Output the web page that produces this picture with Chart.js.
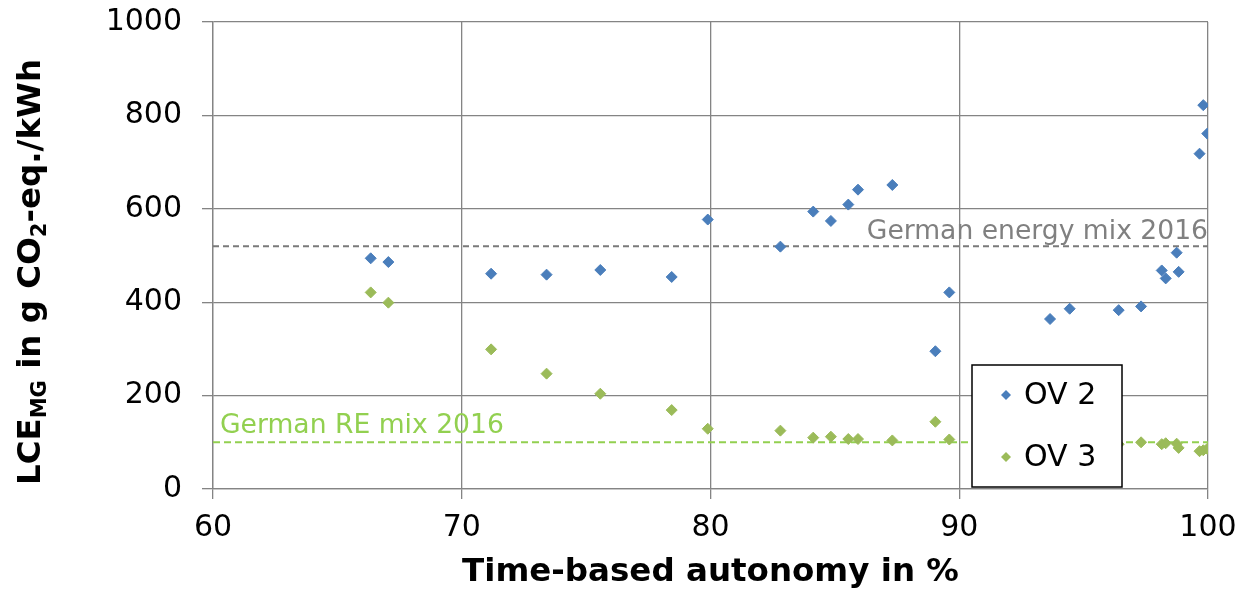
<!DOCTYPE html>
<html>
<head>
<meta charset="utf-8">
<script src="https://cdn.jsdelivr.net/npm/chart.js@4.4.1/dist/chart.umd.min.js"></script>
<style>
  html, body { margin: 0; padding: 0; background: #fff; }
  #wrap { width: 1243px; height: 589px; }
</style>
</head>
<body>
<div id="wrap"><canvas id="chart" width="1243" height="589"></canvas></div>
<script>
// time-based autonomy (%) of each simulated configuration
const autonomy = [66.34, 67.05, 71.18, 73.41, 75.57, 78.44, 79.89, 82.81, 84.13, 84.84,
  85.54, 85.93, 87.31, 89.04, 89.60, 93.65, 94.44, 96.41, 97.31, 98.14,
  98.30, 98.74, 98.82, 99.66, 99.81, 99.97];
// LCE of the microgrid, g CO2-eq./kWh
const ov2 = [494, 486, 461, 459, 469, 454, 577, 519, 594, 574,
  609, 641, 651, 295, 421, 364, 386, 383, 391, 468,
  451, 506, 465, 718, 822, 761];
const ov3 = [421, 399, 299, 247, 204, 169, 129, 125, 110, 112,
  107, 107, 104, 144, 106, 98, 97, 96, 100, 96,
  98, 97, 88, 81, 83, 86];
const seriesNames = ["OV 2", "OV 3"];
const energyMix2016 = 520;
const reMix2016 = 100;
const xRange = [60, 100];
const yRange = [0, 1000];

const BLUE = "#4a7ebb";
const GREEN = "#9bbb59";
const GRID = "#848484";
const FONT = "'DejaVu Sans', Verdana, sans-serif";

Chart.defaults.font.family = FONT;
Chart.defaults.color = "#000";

const toPoints = (ys) => autonomy.map((x, i) => ({ x: x, y: ys[i] }));
const flatLine = (v) => xRange.map((x) => ({ x: x, y: v }));

function diamond(ctx, x, y, r, color) {
  ctx.beginPath();
  ctx.moveTo(x - r, y);
  ctx.lineTo(x, y - r);
  ctx.lineTo(x + r, y);
  ctx.lineTo(x, y + r);
  ctx.closePath();
  ctx.fillStyle = color;
  ctx.fill();
}

// reference line captions, boxed legend and the y title with subscripts
const overlay = {
  id: "overlay",
  afterDatasetsDraw(chart) {
    const { ctx, chartArea, scales } = chart;
    const y = scales.y;
    ctx.save();
    ctx.font = "26.6px " + FONT;
    ctx.textBaseline = "alphabetic";
    ctx.fillStyle = "#808080";
    ctx.textAlign = "right";
    ctx.fillText("German energy mix 2016", chartArea.right, y.getPixelForValue(energyMix2016) - 7);
    ctx.fillStyle = "#92d050";
    ctx.textAlign = "left";
    ctx.fillText("German RE mix 2016", chartArea.left + 7, y.getPixelForValue(reMix2016) - 9);
    ctx.restore();
  },
  afterDraw(chart) {
    const ctx = chart.ctx;
    ctx.save();

    // legend box
    const bx = 972, by = 365, bw = 150, bh = 122;
    ctx.fillStyle = "#fff";
    ctx.fillRect(bx, by, bw, bh);
    ctx.strokeStyle = "#000";
    ctx.lineWidth = 1.5;
    ctx.strokeRect(bx, by, bw, bh);
    ctx.font = "30px " + FONT;
    ctx.textBaseline = "middle";
    ctx.textAlign = "left";
    [[seriesNames[0], BLUE, 395], [seriesNames[1], GREEN, 457]].forEach(([name, color, ly]) => {
      diamond(ctx, 1006, ly, 5, color);
      ctx.fillStyle = "#000";
      ctx.fillText(name, 1024, ly + 1);
    });

    // y axis title
    const parts = [
      ["LCE", false], ["MG", true], [" in g CO", false], ["2", true], ["-eq./kWh", false]
    ];
    const big = "bold 32.5px " + FONT;
    const small = "bold 21px " + FONT;
    let total = 0;
    parts.forEach(([t, sub]) => {
      ctx.font = sub ? small : big;
      total += ctx.measureText(t).width;
    });
    ctx.translate(40, 272);
    ctx.rotate(-Math.PI / 2);
    ctx.fillStyle = "#000";
    ctx.textBaseline = "alphabetic";
    let pos = -total / 2;
    parts.forEach(([t, sub]) => {
      ctx.font = sub ? small : big;
      ctx.fillText(t, pos, sub ? 6 : 0);
      pos += ctx.measureText(t).width;
    });
    ctx.restore();
  }
};

new Chart(document.getElementById("chart"), {
  type: "scatter",
  data: {
    datasets: [
      {
        label: seriesNames[0],
        data: toPoints(ov2),
        pointStyle: "rectRot",
        pointRadius: 5.5,
        pointBorderWidth: 1,
        backgroundColor: BLUE,
        borderColor: BLUE,
        order: 1
      },
      {
        label: seriesNames[1],
        data: toPoints(ov3),
        pointStyle: "rectRot",
        pointRadius: 5.5,
        pointBorderWidth: 1,
        backgroundColor: GREEN,
        borderColor: GREEN,
        order: 2
      },
      {
        label: "German energy mix 2016",
        type: "line",
        data: flatLine(energyMix2016),
        borderColor: "#7a7a7a",
        borderWidth: 2,
        borderDash: [6, 4],
        pointRadius: 0,
        order: 3
      },
      {
        label: "German RE mix 2016",
        type: "line",
        data: flatLine(reMix2016),
        borderColor: "#92d050",
        borderWidth: 2,
        borderDash: [7, 4],
        pointRadius: 0,
        order: 4
      }
    ]
  },
  options: {
    responsive: false,
    animation: false,
    events: [],
    layout: { padding: { top: 22, right: 35, bottom: 0, left: 0 } },
    plugins: {
      legend: { display: false },
      tooltip: { enabled: false }
    },
    scales: {
      x: {
        type: "linear",
        min: xRange[0],
        max: xRange[1],
        afterFit: (scale) => {
          scale.height = 100;
          scale.paddingLeft = 0;
          scale.paddingRight = 0;
        },
        ticks: { stepSize: 10, font: { size: 30 }, padding: 11, color: "#000" },
        grid: { color: GRID, lineWidth: 1.3, tickLength: 10 },
        border: { color: GRID, width: 1.3 },
        title: {
          display: true,
          text: "Time-based autonomy in %",
          font: { size: 32.5, weight: "bold" },
          color: "#000",
          padding: { top: 0, bottom: -3 }
        }
      },
      y: {
        type: "linear",
        min: yRange[0],
        max: yRange[1],
        afterFit: (scale) => {
          scale.width = 213;
          scale.paddingTop = 0;
          scale.paddingBottom = 0;
        },
        ticks: {
          stepSize: 200,
          font: { size: 30 },
          padding: 20,
          color: "#000",
          callback: (v) => String(v)
        },
        grid: { color: GRID, lineWidth: 1.3, tickLength: 11 },
        border: { color: GRID, width: 1.3 }
      }
    }
  },
  plugins: [overlay]
});
</script>
</body>
</html>
